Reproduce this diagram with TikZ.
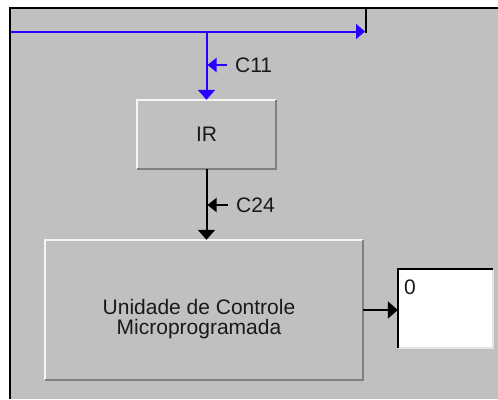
\documentclass[tikz,border=0pt]{standalone}
\usepackage{fontspec}
\setmainfont{Liberation Sans}
\usetikzlibrary{arrows.meta,positioning,calc}
\definecolor{wingray}{RGB}{192,192,192}
\definecolor{busblue}{RGB}{40,0,255}
\definecolor{edgedark}{RGB}{128,128,128}
\definecolor{edgelite}{RGB}{245,245,245}

\begin{document}
\begin{tikzpicture}[x=1pt, y=-1pt,
    blk/.style={minimum width=139pt, minimum height=69pt, inner sep=0pt, align=center, font=\fontsize{21}{21}\selectfont, text=black!90},
    disp/.style={fill=white, minimum width=95pt, minimum height=79pt, inner sep=0pt},
    txt/.style={inner sep=0pt, align=center, font=\fontsize{21}{20.5}\selectfont, text=black!90},
    arr/.style={-{Triangle[length=10pt,width=17pt]}, line width=2pt},
    ctl/.style={-{Triangle[length=9pt,width=14pt]}, line width=2pt, shorten >=1pt},
    hi/.style={draw=edgelite, line width=2.5pt},
    lo/.style={draw=edgedark, line width=2.5pt}
]
\useasboundingbox (0,0) rectangle (498,399);
\fill[white] (0,0) rectangle (498,399);
\fill[wingray] (10,8) rectangle (498,399);
\draw[line width=2pt] (10,399) -- (10,8) -- (498,8);

\node[blk] (ir) at (206.5,134.5) {IR};
\node[blk, minimum width=318pt, minimum height=140pt] (uc) at (204,310) {};
\node[txt] (ucl) at (199,319) {Unidade de Controle\\Microprogramada};
\node[disp] (out) at (445.5,308.5) {};
\node[txt, anchor=north west] (val) at (404,280) {0};
\node[txt, anchor=west] (c11) at (235,65) {C11};
\node[txt, anchor=west] (c24) at (236,205) {C24};

% bevels
\draw[hi] (ir.south west) |- (ir.north east);
\draw[lo] (ir.south west) -| (ir.north east);
\draw[hi] (uc.south west) |- (uc.north east);
\draw[lo] (uc.south west) -| (uc.north east);
\draw[hi, draw=white!90!black] (out.south west) -| (out.north east);
\draw[line width=2.5pt] (out.south west) |- (out.north east);

% bus
\coordinate (busw) at (11,31.5);
\coordinate (buse) at (365,31.5);
\coordinate (tap) at (206.5,31.5);
\coordinate (feed) at (366,9);
\draw[arr, busblue, -{Triangle[length=9pt,width=15pt]}] (busw) -- (buse);
\draw[line width=2pt] (feed) -- ([yshift=-1pt]feed |- buse);

\draw[arr, busblue] (tap) -- (ir.north);
\draw[ctl, busblue] ([xshift=-8pt]c11.west) -- (c11.west -| tap);
\draw[arr] (ir.south) -- (ir.south |- uc.north);
\draw[ctl] ([xshift=-8pt]c24.west) -- (c24.west -| ir.south);
\draw[arr] (uc.east) -- (uc.east -| out.west);
\end{tikzpicture}
\end{document}
